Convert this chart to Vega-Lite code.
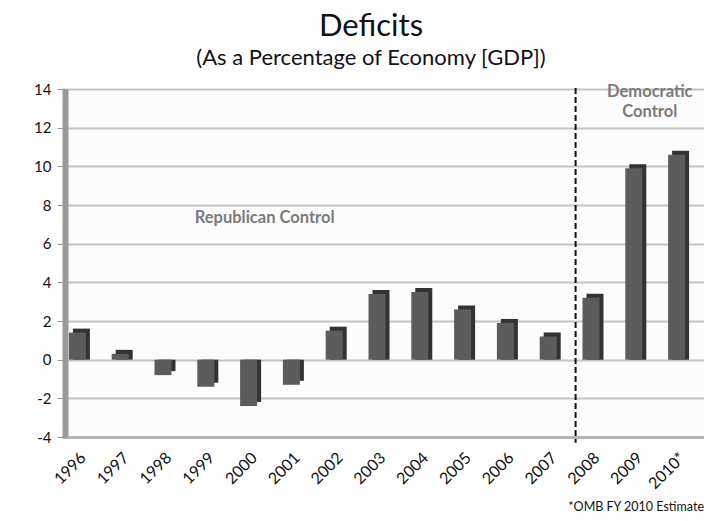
{
  "$schema": "https://vega.github.io/schema/vega-lite/v6.json",
  "autosize": {"type": "none"},
  "width": 642,
  "height": 348,
  "padding": {"left": 62, "top": 89, "right": 0, "bottom": 84},
  "background": "#ffffff",
  "config": {
    "font": "Lato",
    "view": {"fill": "#fcfcfc", "stroke": null}
  },
  "title": {
    "text": "Deficits",
    "subtitle": "(As a Percentage of Economy [GDP])",
    "anchor": "middle",
    "dx": -12,
    "offset": 12,
    "font": "Lato",
    "fontSize": 31,
    "fontWeight": "normal",
    "color": "#111111",
    "subtitleFont": "Lato",
    "subtitleFontSize": 22,
    "subtitleColor": "#111111",
    "subtitlePadding": 5
  },
  "datasets": {
    "deficits": [
      {"year": "1996", "value": 1.4},
      {"year": "1997", "value": 0.3},
      {"year": "1998", "value": -0.8},
      {"year": "1999", "value": -1.4},
      {"year": "2000", "value": -2.4},
      {"year": "2001", "value": -1.3},
      {"year": "2002", "value": 1.5},
      {"year": "2003", "value": 3.4},
      {"year": "2004", "value": 3.5},
      {"year": "2005", "value": 2.6},
      {"year": "2006", "value": 1.9},
      {"year": "2007", "value": 1.2},
      {"year": "2008", "value": 3.2},
      {"year": "2009", "value": 9.9},
      {"year": "2010*", "value": 10.6}
    ],
    "notes": [
      {"year": "2000", "value": 7.33, "label": "Republican Control"},
      {"year": "2009", "value": 13.85, "label": "Democratic"},
      {"year": "2009", "value": 12.8, "label": "Control"}
    ],
    "divider": [
      {"year": "2008", "top": 14.05, "bottom": -4.3}
    ],
    "footnote": [
      {"year": "2010*", "value": -7.62, "label": "*OMB FY 2010 Estimate"}
    ]
  },
  "encoding": {
    "x": {
      "field": "year",
      "type": "nominal",
      "scale": {
        "domain": ["1996","1997","1998","1999","2000","2001","2002","2003","2004","2005","2006","2007","2008","2009","2010*"],
        "paddingInner": 0,
        "paddingOuter": 0
      },
      "axis": {
        "title": null,
        "labelAngle": -45,
        "labelAlign": "right",
        "labelBaseline": "middle",
        "labelFontSize": 16,
        "labelColor": "#111111",
        "labelFont": "Lato",
        "labelPadding": 18,
        "ticks": false,
        "domain": true,
        "domainColor": "#b5b5b5",
        "domainWidth": 3,
        "grid": false
      }
    },
    "y": {
      "field": "value",
      "type": "quantitative",
      "scale": {"domain": [-4, 14], "nice": false},
      "axis": {
        "title": null,
        "values": [-4, -2, 0, 2, 4, 6, 8, 10, 12, 14],
        "labelExpr": "replace(datum.label, '\u2212', '-')",
        "labelFontSize": 15,
        "labelColor": "#111111",
        "labelFont": "Lato",
        "labelPadding": 6,
        "tickColor": "#999999",
        "tickSize": 8,
        "offset": -3,
        "domainColor": "#9a9a9a",
        "domainWidth": 6,
        "grid": true,
        "gridColor": "#c4c4c4",
        "gridWidth": 2
      }
    }
  },
  "layer": [
    {
      "data": {"name": "deficits"},
      "mark": {"type": "bar", "width": 17, "xOffset": -2, "yOffset": -4, "color": "#333333"},
      "encoding": {"y": {"field": "value", "type": "quantitative"}, "y2": {"datum": 0}}
    },
    {
      "data": {"name": "deficits"},
      "mark": {"type": "bar", "width": 17, "xOffset": -6, "color": "#5c5c5c"},
      "encoding": {"y": {"field": "value", "type": "quantitative"}, "y2": {"datum": 0}}
    },
    {
      "data": {"name": "divider"},
      "mark": {"type": "rule", "color": "#111111", "strokeWidth": 2, "strokeDash": [6, 3]},
      "encoding": {
        "x": {"field": "year", "type": "nominal", "bandPosition": 0},
        "y": {"field": "top", "type": "quantitative"},
        "y2": {"field": "bottom"}
      }
    },
    {
      "data": {"name": "notes"},
      "mark": {"type": "text", "dx": 10, "fontSize": 16.5, "fontWeight": "bold", "color": "#7a7a7a", "font": "Lato"},
      "encoding": {"text": {"field": "label"}}
    },
    {
      "data": {"name": "footnote"},
      "mark": {"type": "text", "align": "right", "fontSize": 12.5, "color": "#111111", "font": "Lato"},
      "encoding": {
        "x": {"field": "year", "type": "nominal", "bandPosition": 1},
        "text": {"field": "label"}
      }
    }
  ]
}
